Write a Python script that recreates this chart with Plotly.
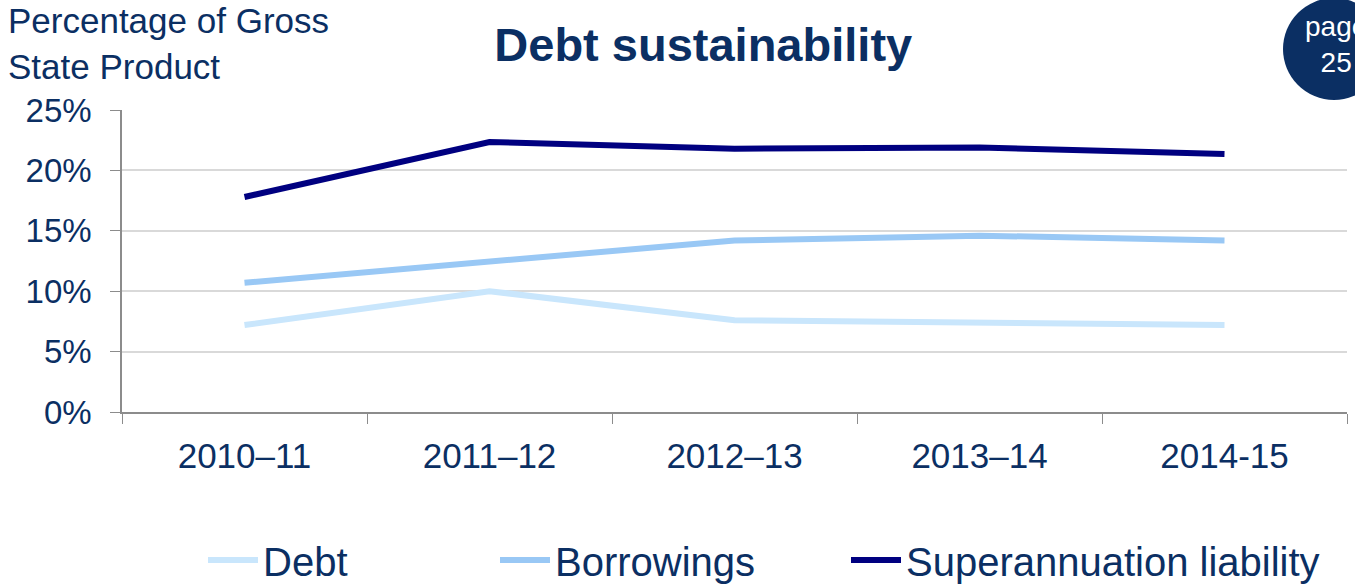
import plotly.graph_objects as go

years = ["2010–11", "2011–12", "2012–13", "2013–14", "2014-15"]
debt = [7.2, 10.0, 7.6, 7.45, 7.2]
borrowings = [10.7, 12.4, 14.2, 14.6, 14.2]
superannuation = [17.8, 22.35, 21.8, 21.9, 21.35]
y_ticks = [0, 5, 10, 15, 20, 25]
y_tick_labels = ["0%", "5%", "10%", "15%", "20%", "25%"]

TXT = "#0b2f63"
FONT = "Liberation Sans, Arial, sans-serif"
W, H = 1355, 585

fig = go.Figure()
fig.add_trace(go.Scatter(x=years, y=debt, name="Debt", mode="lines", legend="legend",
                         line=dict(color="#c9e6fc", width=6)))
fig.add_trace(go.Scatter(x=years, y=borrowings, name="Borrowings", mode="lines", legend="legend2",
                         line=dict(color="#99c8f5", width=6)))
fig.add_trace(go.Scatter(x=years, y=superannuation, name="Superannuation liability", mode="lines",
                         legend="legend3", line=dict(color="#000080", width=6)))


def leg(xpx):
    return dict(orientation="h", xref="container", yref="container",
                x=xpx / W, xanchor="left", y=1 - 560 / H, yanchor="middle",
                font=dict(size=40, color=TXT, family=FONT), itemwidth=50,
                bgcolor="rgba(0,0,0,0)", borderwidth=0)


fig.update_layout(
    width=W, height=H,
    margin=dict(l=122, r=8, t=110, b=173),
    paper_bgcolor="white", plot_bgcolor="white",
    font=dict(family=FONT, color=TXT),
    showlegend=True,
    legend=leg(203),
    legend2=leg(495),
    legend3=leg(846),
    title=dict(text="<b>Debt sustainability</b>", x=0.519, xanchor="center",
               y=1 - 45 / H, yanchor="middle",
               font=dict(size=47, color=TXT, family=FONT)),
    xaxis=dict(type="category", range=[-0.5, 4.5], showgrid=False,
               showline=True, linecolor="#8c8c8c", linewidth=1.5,
               ticks="outside", tickson="boundaries", ticklen=10, tickcolor="#8c8c8c",
               ticklabelstandoff=12,
               tickfont=dict(size=35, color=TXT), fixedrange=True),
    yaxis=dict(range=[0, 25], tickvals=y_ticks, ticktext=y_tick_labels,
               showgrid=True, gridcolor="#d9d9d9", gridwidth=1.5,
               showline=True, linecolor="#8c8c8c", linewidth=1.5,
               ticks="outside", ticklen=10, tickcolor="#8c8c8c",
               ticklabelstandoff=12,
               tickfont=dict(size=33, color=TXT), zeroline=False, fixedrange=True),
)

fig.add_annotation(text="Percentage of Gross<br>State Product", xref="paper", yref="paper",
                   x=-122 / 1225, xanchor="left", xshift=6, y=1, yanchor="bottom", yshift=22,
                   align="left", showarrow=False,
                   font=dict(size=35, color=TXT, family=FONT))

fig.add_shape(type="circle", xref="paper", yref="paper",
              x0=(1283 - 122) / 1225, x1=(1385 - 122) / 1225,
              y0=(412 - 100) / 302, y1=(412 + 2) / 302,
              fillcolor="#0b2f63", line=dict(width=0), layer="above")
fig.add_annotation(text="page<br>25", xref="paper", yref="paper",
                   x=(1336 - 122) / 1225, y=(412 - 44) / 302, xanchor="center", yanchor="middle",
                   showarrow=False, align="center",
                   font=dict(size=28, color="white", family=FONT))

fig.write_html("out.html")
